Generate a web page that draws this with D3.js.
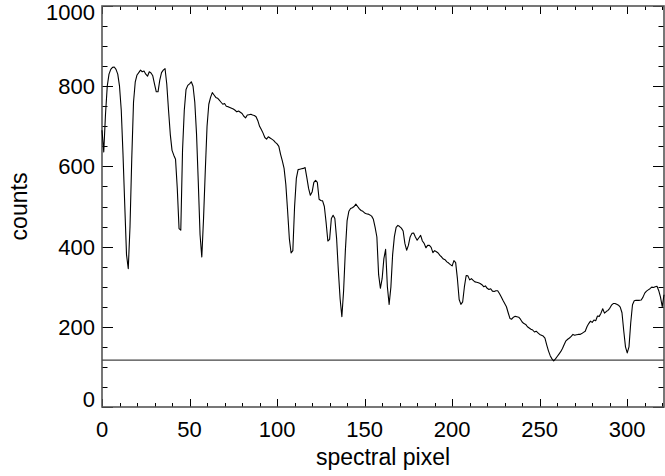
<!DOCTYPE html>
<html>
<head>
<meta charset="utf-8">
<script src="https://cdn.jsdelivr.net/npm/d3@7"></script>
<style>
  html, body { margin: 0; padding: 0; background: #fff; }
  svg { display: block; }
  text { font-family: "Liberation Sans", Arial, Helvetica, sans-serif; fill: #000; }
</style>
</head>
<body>
<svg id="chart" width="665" height="476"></svg>
<script>
// ---- data ----
const counts = [
  690, 636, 730, 800, 830, 842, 847, 848, 842, 830,
  800, 740, 630, 503, 380, 345, 450, 620, 760, 811,
  828, 834, 840, 836, 838, 830, 825, 836, 833, 826,
  805, 786, 786, 815, 834, 840, 844, 805, 740, 680,
  640, 628, 618, 545, 445, 441, 640, 740, 792, 802,
  806, 811, 800, 760, 680, 560, 430, 374, 470, 590,
  700, 755, 772, 784, 778, 772, 770, 765, 760, 755,
  757, 750, 749, 747, 745, 743, 740, 736, 738, 735,
  732, 725, 721, 728, 729, 730, 728, 727, 724, 714,
  700, 692, 683, 672, 668, 674, 671, 668, 665, 660,
  656, 650, 630, 614, 595, 555, 490, 420, 384, 390,
  500, 570, 592, 593, 594, 595, 597, 572, 545, 528,
  536, 560, 565, 560, 518, 515, 514, 500, 460, 414,
  418, 470, 478, 470, 420, 340, 270, 225, 290, 390,
  465, 488, 495, 497, 500, 506, 500, 494, 490, 488,
  484, 482, 481, 479, 476, 468, 448, 424, 330, 296,
  320, 370, 393, 300, 256, 299, 380, 425, 448, 453,
  450, 446, 439, 408, 391, 403, 424, 433, 434, 424,
  416, 422, 428, 414, 408, 397, 403, 403, 398, 385,
  390, 387, 384, 378, 374, 369, 367, 362, 359, 355,
  352, 365, 360, 320, 268, 256, 262, 300, 328, 327,
  317, 320, 316, 312, 311, 310, 308, 305, 300, 302,
  296, 293, 295, 289, 288, 290, 290, 283, 275, 266,
  258, 250, 235, 221, 219, 224, 226, 225, 224, 219,
  212, 208, 206, 200, 197, 194, 192, 187, 189, 185,
  181, 179, 177, 172, 155, 140, 128, 120, 115, 120,
  126, 132, 138, 146, 156, 165, 169, 172, 176, 181,
  179, 180, 181, 181, 183, 186, 189, 200, 208, 214,
  211, 217, 215, 227, 226, 234, 245, 234, 238, 241,
  246, 254, 258, 258, 256, 254, 249, 235, 190, 150,
  135, 150, 210, 255, 265, 266, 266, 266, 267, 274,
  284, 289, 292, 295, 299, 298, 300, 301, 290, 274,
  250, 280
];
const baselineLevel = 117;
const xTicks = [0, 50, 100, 150, 200, 250, 300];
const yTicks = [0, 200, 400, 600, 800, 1000];
const xLabel = "spectral pixel";
const yLabel = "counts";
const xMax = 321;

// ---- layout ----
const L = 102, R = 664, T = 6, B = 407;
const svg = d3.select("#chart");
const x = d3.scaleLinear().domain([0, xMax]).range([L, R]);
const y = d3.scaleLinear().domain([0, 1000]).range([B, T]);

const xMinor = d3.range(0, xMax + 1, 10);
const yMinor = d3.range(0, 1001, 50);

// ticks
const tickG = svg.append("g").attr("stroke", "#000").attr("stroke-width", 1);
xMinor.forEach(v => {
  const major = xTicks.includes(v);
  const len = major ? 8 : 4;
  const px = Math.round(x(v)) + 0.5;
  tickG.append("line").attr("x1", px).attr("x2", px).attr("y1", B).attr("y2", B - len);
  tickG.append("line").attr("x1", px).attr("x2", px).attr("y1", T).attr("y2", T + len);
});
yMinor.forEach(v => {
  const major = yTicks.includes(v);
  const len = major ? 11 : 5.5;
  const py = Math.round(y(v)) + 0.5;
  tickG.append("line").attr("x1", L).attr("x2", L + len).attr("y1", py).attr("y2", py);
  tickG.append("line").attr("x1", R).attr("x2", R - len).attr("y1", py).attr("y2", py);
});

// frame
svg.append("rect").attr("x", L).attr("y", T).attr("width", R - L).attr("height", B - T)
  .attr("fill", "none").attr("stroke", "#555").attr("stroke-width", 1.6);

// horizontal level line
svg.append("line").attr("x1", L).attr("x2", R)
  .attr("y1", y(baselineLevel)).attr("y2", y(baselineLevel))
  .attr("stroke", "#444").attr("stroke-width", 1.2);

// spectrum
const line = d3.line().x((d, i) => x(i)).y(d => y(d));
svg.append("path").datum(counts).attr("d", line)
  .attr("fill", "none").attr("stroke", "#000").attr("stroke-width", 1.1)
  .attr("stroke-linejoin", "round");

// tick labels
const fs = 22;
svg.append("g").selectAll("text").data(xTicks).join("text")
  .attr("x", d => x(d)).attr("y", 437)
  .attr("text-anchor", "middle").attr("font-size", fs).text(d => d);
svg.append("g").selectAll("text").data(yTicks).join("text")
  .attr("x", 95)
  .attr("y", d => y(d) + (d === 0 ? -8 : d === 1000 ? 6 : 0))
  .attr("dy", "0.36em")
  .attr("text-anchor", "end").attr("font-size", fs).text(d => d);

// axis titles
svg.append("text").attr("x", (L + R) / 2).attr("y", 465)
  .attr("text-anchor", "middle").attr("font-size", 23).text(xLabel);
svg.append("text").attr("transform", `translate(27,${(T + B) / 2}) rotate(-90)`)
  .attr("text-anchor", "middle").attr("font-size", 23).text(yLabel);
</script>
</body>
</html>
